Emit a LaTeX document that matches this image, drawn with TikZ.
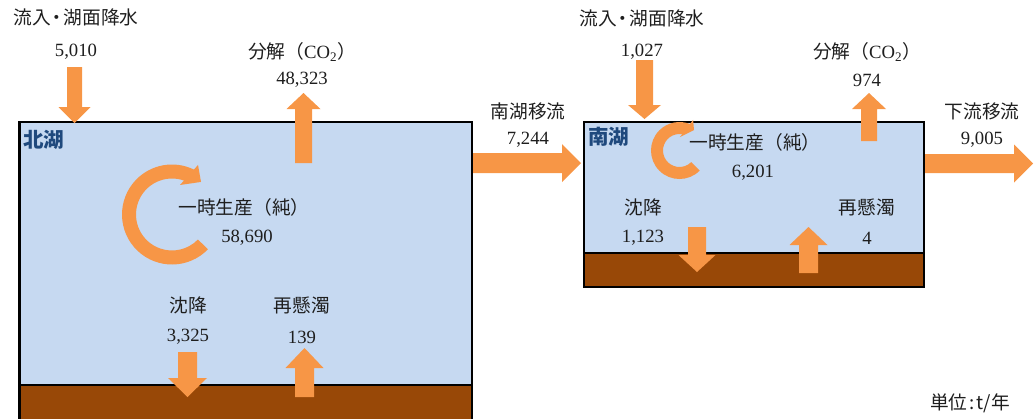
\documentclass[tikz,border=0pt]{standalone}
\usepackage{fontspec}
\setmainfont{Liberation Serif}
\newfontfamily\jp{Noto Sans CJK JP}
\definecolor{lake}{RGB}{198,217,241}
\definecolor{sed}{RGB}{152,72,7}
\definecolor{arr}{RGB}{247,150,70}
\definecolor{lbl}{RGB}{31,73,125}
\definecolor{txtc}{RGB}{30,30,30}
\newcommand\myvarrow[6]{% xc, ytail, yheadbase, ytip, half shaft, half head
  \fill[arr] (#1-#5,#2) -- (#1-#5,#3) -- (#1-#6,#3) -- (#1,#4) -- (#1+#6,#3) -- (#1+#5,#3) -- (#1+#5,#2) -- cycle;}
\newcommand\myharrow[6]{% yc, xtail, xheadbase, xtip, half shaft, half head
  \fill[arr] (#2,#1-#5) -- (#3,#1-#5) -- (#3,#1-#6) -- (#4,#1) -- (#3,#1+#6) -- (#3,#1+#5) -- (#2,#1+#5) -- cycle;}
\tikzset{
  txt/.style={font=\fontsize{18.7bp}{22bp}\selectfont, inner sep=0pt, anchor=center, text=txtc},
  lakename/.style={font=\fontsize{20.5bp}{24bp}\selectfont\jp\bfseries, inner sep=0pt, anchor=west, text=lbl},
  boxline/.style={draw=black, line width=2.5bp},
}
\begin{document}
\begin{tikzpicture}[x=1bp,y=-1bp]
\useasboundingbox (0,0) rectangle (1035,418);
\begin{scope}
\clip (0,0) rectangle (1035,418);
% North lake
\filldraw[fill=lake, boxline] (19.5,122) rectangle (472,421);
\filldraw[fill=sed, boxline] (19.5,385) rectangle (472,421);
\end{scope}
% South lake
\filldraw[fill=lake, boxline] (584,122) rectangle (924,287);
\filldraw[fill=sed, boxline] (584,253) rectangle (924,287);
% block arrows
\myvarrow{74.5}{67}{107}{123}{7.5}{16}
\myvarrow{303.5}{163}{109}{93}{8.5}{17}
\myvarrow{187.5}{352}{378}{397}{9.5}{19.5}
\myvarrow{304.5}{397}{368}{348}{9.5}{19}
\myharrow{163}{473}{562}{581}{10}{19}
\myvarrow{644.5}{60}{105}{119}{8.5}{16.5}
\myvarrow{869}{141}{109}{93}{8}{17}
\myvarrow{697}{227}{255}{272}{9}{18.5}
\myvarrow{808.5}{273}{245}{227}{9.5}{19}
\myharrow{163.5}{925}{1014}{1033}{9.5}{19}
% cycle arrows
\begin{scope}[shift={(172,214.5)}]
\fill[arr] (44:50) arc[start angle=44, end angle=296, radius=50]
  -- (297.7:56) -- (311.7:43.6) -- (285.2:30.6) -- (289.4:36)
  arc[start angle=289.4, end angle=44, radius=36] -- cycle;
\end{scope}
\begin{scope}[shift={(679.5,150.5)}]
\fill[arr] (45:28.5) arc[start angle=45, end angle=291.5, radius=28.5]
  -- (294:33.4) -- (305.3:25.1) -- (272:13.5) -- (279.4:16.5)
  arc[start angle=279.4, end angle=45, radius=16.5] -- cycle;
\end{scope}
% texts north
\node[txt] (nin) at (76,17) {\jp 流入{\kern-3bp}・{\kern-3bp}湖面降水};
\node[txt] (ninv) at (76,52) {5,010};
\node[txt] (ndec) at (302,52) {{\jp 分解（}CO\textsubscript{2}{\jp ）}};
\node[txt] (ndecv) at (302,80) {48,323};
\node[lakename] (nname) at (23,140) {北湖};
\node[txt] (nprod) at (244,207) {\jp 一時生産（純）};
\node[txt] (nprodv) at (247,238) {58,690};
\node[txt] (nset) at (188,305) {\jp 沈降};
\node[txt] (nsetv) at (188,337) {3,325};
\node[txt] (nres) at (302,305) {\jp 再懸濁};
\node[txt] (nresv) at (302,337) {139};
% transfer
\node[txt] (tr) at (528,111) {\jp 南湖移流};
\node[txt] (trv) at (528,140) {7,244};
% texts south
\node[txt] (sin) at (642,18) {\jp 流入{\kern-3bp}・{\kern-3bp}湖面降水};
\node[txt] (sinv) at (642,52) {1,027};
\node[lakename] (sname) at (588,137) {南湖};
\node[txt] (sprod) at (755,142) {\jp 一時生産（純）};
\node[txt] (sprodv) at (753,173) {6,201};
\node[txt] (sset) at (643,207) {\jp 沈降};
\node[txt] (ssetv) at (643,238) {1,123};
\node[txt] (sres) at (867,207) {\jp 再懸濁};
\node[txt] (sresv) at (867,238) {4};
\node[txt] (sdec) at (867,52) {{\jp 分解（}CO\textsubscript{2}{\jp ）}};
\node[txt] (sdecv) at (867,80) {974};
\node[txt] (out) at (982,111) {\jp 下流移流};
\node[txt] (outv) at (982,140) {9,005};
\node[txt] (unit) at (970,403) {\jp 単位{\kern2bp}:{\kern2bp}t/年};
\end{tikzpicture}
\end{document}
